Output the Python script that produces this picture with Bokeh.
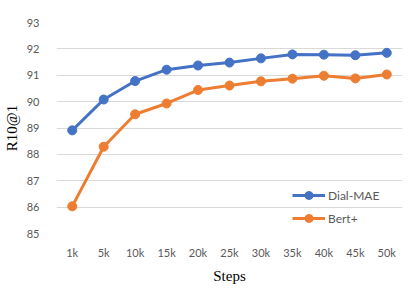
from bokeh.plotting import figure
from bokeh.models import Range1d, FixedTicker
from bokeh.embed import file_html
from bokeh.resources import INLINE

steps = ["1k", "5k", "10k", "15k", "20k", "25k", "30k", "35k", "40k", "45k", "50k"]
dial_mae = [88.91, 90.08, 90.78, 91.21, 91.37, 91.48, 91.64, 91.79, 91.78, 91.76, 91.85]
bert_plus = [86.03, 88.29, 89.52, 89.93, 90.44, 90.61, 90.77, 90.87, 90.98, 90.88, 91.03]
y_ticks = [85, 86, 87, 88, 89, 90, 91, 92, 93]

BLUE = "#4472C4"
ORANGE = "#ED7D31"
GRAY = "#595959"

p = figure(frame_width=346, frame_height=211, x_range=steps, y_range=Range1d(85, 93),
           output_backend="svg", toolbar_location=None,
           min_border_left=47, min_border_right=6, min_border_top=22, min_border_bottom=40)
p.outline_line_color = None

for vals, color, label in [(dial_mae, BLUE, "Dial-MAE"), (bert_plus, ORANGE, "Bert+")]:
    p.line(steps, vals, line_color=color, line_width=3, legend_label=label)
    p.scatter(steps, vals, size=9, fill_color=color, line_color=color, legend_label=label)

p.xgrid.grid_line_color = None
p.ygrid.grid_line_color = "#D9D9D9"
p.ygrid.grid_line_width = 1
p.yaxis.ticker = FixedTicker(ticks=y_ticks)

for ax in (p.xaxis[0], p.yaxis[0]):
    ax.axis_line_color = None
    ax.major_tick_line_color = None
    ax.minor_tick_line_color = None
    ax.major_tick_out = 0
    ax.major_tick_in = 0
    ax.major_label_text_font = "Lato"
    ax.major_label_text_font_size = "11px"
    ax.major_label_text_color = GRAY
    ax.axis_label_text_font = "Liberation Serif"
    ax.axis_label_text_font_size = "15px"
    ax.axis_label_text_font_style = "normal"
    ax.axis_label_text_color = "black"

p.xaxis.major_label_standoff = 12
p.yaxis.major_label_standoff = 17
p.xaxis.axis_label = "Steps"
p.yaxis.axis_label = "R10@1"
p.xaxis.axis_label_standoff = 6
p.yaxis.axis_label_standoff = 4

lg = p.legend[0]
lg.location = (236, 5)
lg.padding = 0
lg.margin = 0
lg.spacing = 3
lg.glyph_width = 33
lg.glyph_height = 20
lg.label_standoff = 3
lg.label_text_font = "Lato"
lg.label_text_font_size = "12px"
lg.label_text_color = GRAY
lg.border_line_alpha = 0
lg.background_fill_alpha = 0

open("out.html", "w").write(file_html(p, INLINE))
